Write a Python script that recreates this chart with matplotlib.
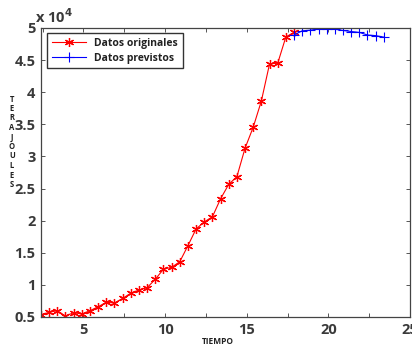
import matplotlib
matplotlib.use("Agg")
import matplotlib.pyplot as plt
import numpy as np

# datos
t_orig = [2.4 + 0.5 * k for k in range(32)]
e_orig = [5360, 5730, 5980, 5150, 5670, 5470, 5980, 6600, 7290, 7180,
          7900, 8700, 9200, 9560, 10870, 12430, 12740, 13600, 16100, 18700,
          19800, 20600, 23400, 25650, 26850, 31280, 34550, 38640, 44400, 44500,
          48600, 49300]
t_prev = [17.9 + 0.5 * k for k in range(12)]
e_prev = [48900, 49550, 49650, 49860, 49860, 49800, 49600, 49440, 49300,
          48900, 48800, 48570]

xticks = [2.5, 5, 7.5, 10, 12.5, 15, 17.5, 20, 22.5, 25]
xlabels = ["", "5", "", "10", "", "15", "", "20", "", "25"]
yticks = [5000, 10000, 15000, 20000, 25000, 30000, 35000, 40000, 45000, 50000]
ylabels = ["0.5", "1", "1.5", "2", "2.5", "3", "3.5", "4", "4.5", "5"]

plt.rcParams['font.family'] = 'Open Sans'
plt.rcParams['font.weight'] = 'bold'
txt = '#3a3a3a'

fig = plt.figure(figsize=(4.12, 3.49), dpi=100)
ax = fig.add_axes([0.0995, 0.0917, 0.8955, 0.8283])

ax.plot(t_orig, e_orig, color='red', marker=(6, 2, 0), markersize=6.5, linewidth=0.8,
        markeredgewidth=0.9, label='Datos originales')
ax.plot(t_prev, e_prev, color='blue', marker='+', markersize=7, linewidth=0.8,
        markeredgewidth=0.8, label='Datos previstos')

ax.set_xlim(2.4, 25)
ax.set_ylim(5000, 50000)
ax.set_xticks(xticks)
ax.set_xticklabels(xlabels)
ax.set_yticks(yticks)
ax.set_yticklabels(ylabels)
ax.tick_params(direction='in', length=3, width=0.7, colors='#555555',
               labelcolor=txt, labelsize=10.5, top=True, right=True, pad=4)
for s in ax.spines.values():
    s.set_color('#444444')
    s.set_linewidth(0.9)

fig.text(0.35 / 4.12, 0.925, r'x 10$^{4}$', fontsize=10.5, color=txt,
         fontweight='bold', ha='left', va='bottom')

fig.text(0.53, 0.01, 'TIEMPO', fontsize=6, color='#222222', ha='center', va='bottom')
for i, ch in enumerate('TERAJOULES'):
    fig.text(12 / 412, 1 - (99 + i * 9.5) / 349, ch, fontsize=5.5, color='#222222',
             ha='center', va='center')

leg = ax.legend(loc='upper left', bbox_to_anchor=(0.016, 0.983), fontsize=7.5,
                frameon=True, fancybox=False, borderaxespad=0, handlelength=3.3,
                borderpad=0.45, labelspacing=0.4)
leg.get_frame().set_edgecolor('black')
leg.get_frame().set_linewidth(1.0)
for t in leg.get_texts():
    t.set_color('#222222')

plt.savefig('out.png', dpi=100)
